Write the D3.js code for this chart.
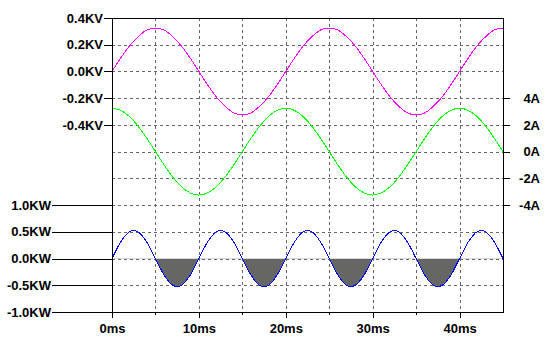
<!DOCTYPE html>
<html>
<head>
<meta charset="utf-8">
<script src="https://cdn.jsdelivr.net/npm/d3@7/dist/d3.min.js"></script>
<style>
    body { margin: 0; background: #fff; }
    svg text { font-family: "Liberation Sans", Arial, sans-serif; font-size: 13px; font-weight: bold; fill: #000; }
</style>
</head>
<body>
<div id="chart"></div>
<script>

// sample times (ms)
var timeMs = [0, 1, 2, 3, 4, 5, 6, 7, 8, 9, 10, 11, 12, 13, 14, 15, 16, 17, 18, 19,
    20, 21, 22, 23, 24, 25, 26, 27, 28, 29, 30, 31, 32, 33, 34, 35, 36, 37, 38, 39,
    40, 41, 42, 43, 44, 45];

// V(n001) in KV
var voltage = [0, 0.10, 0.19, 0.26, 0.31, 0.325, 0.31, 0.26, 0.19, 0.10,
    0, -0.10, -0.19, -0.26, -0.31, -0.325, -0.31, -0.26, -0.19, -0.10,
    0, 0.10, 0.19, 0.26, 0.31, 0.325, 0.31, 0.26, 0.19, 0.10,
    0, -0.10, -0.19, -0.26, -0.31, -0.325, -0.31, -0.26, -0.19, -0.10,
    0, 0.10, 0.19, 0.26, 0.31, 0.325];

// I(C1) in A
var current = [3.25, 3.09, 2.63, 1.91, 1.00, 0, -1.00, -1.91, -2.63, -3.09,
    -3.25, -3.09, -2.63, -1.91, -1.00, 0, 1.00, 1.91, 2.63, 3.09,
    3.25, 3.09, 2.63, 1.91, 1.00, 0, -1.00, -1.91, -2.63, -3.09,
    -3.25, -3.09, -2.63, -1.91, -1.00, 0, 1.00, 1.91, 2.63, 3.09,
    3.25, 3.09, 2.63, 1.91, 1.00, 0];

// power in KW
var power = [0, 0.31, 0.50, 0.50, 0.31, 0, -0.31, -0.50, -0.50, -0.31,
    0, 0.31, 0.50, 0.50, 0.31, 0, -0.31, -0.50, -0.50, -0.31,
    0, 0.31, 0.50, 0.50, 0.31, 0, -0.31, -0.50, -0.50, -0.31,
    0, 0.31, 0.50, 0.50, 0.31, 0, -0.31, -0.50, -0.50, -0.31,
    0, 0.31, 0.50, 0.50, 0.31, 0];

// ticks and labels
var timeMajor = [0, 10, 20, 30, 40];
var timeMinor = [5, 15, 25, 35];
var timeGrid = [5, 10, 15, 20, 25, 30, 35, 40];
var timeLabels = ["0ms", "10ms", "20ms", "30ms", "40ms"];
var voltTicks = [0.4, 0.2, 0, -0.2, -0.4];
var voltLabels = ["0.4KV", "0.2KV", "0.0KV", "-0.2KV", "-0.4KV"];
var ampTicks = [4, 2, 0, -2, -4];
var ampLabels = ["4A", "2A", "0A", "-2A", "-4A"];
var wattTicks = [1.0, 0.5, 0, -0.5, -1.0];
var wattLabels = ["1.0KW", "0.5KW", "0.0KW", "-0.5KW", "-1.0KW"];

var W = 550, H = 338;
var pLeft = 112, pRight = 503, pTop = 18, pBottom = 312;
var div = (pBottom - pTop) / 11;

var svg = d3.select("#chart").append("svg")
    .attr("width", W)
    .attr("height", H);

var x = d3.scaleLinear().domain([0, 45]).range([pLeft, pRight]);
var yV = d3.scaleLinear().domain([0.4, -0.4]).range([pTop, pTop + 4 * div]);
var yI = d3.scaleLinear().domain([4, -4]).range([pTop + 3 * div, pTop + 7 * div]);
var yP = d3.scaleLinear().domain([1, -1]).range([pTop + 7 * div, pBottom]);

function lookup(ticks, labels) {
    return function(d) { return labels[ticks.indexOf(d)]; };
}

// dashed grid
var hLines = voltTicks.map(yV).concat(ampTicks.map(yI), wattTicks.map(yP))
    .map(function(v) { return Math.round(v); })
    .filter(function(v, i, a) { return a.indexOf(v) === i && v > pTop && v < pBottom; });

var grid = svg.append("g")
    .attr("stroke", "#666")
    .attr("stroke-dasharray", "3,3")
    .attr("shape-rendering", "crispEdges");

grid.selectAll("line.h").data(hLines).enter().append("line")
    .attr("class", "h")
    .attr("x1", pLeft).attr("x2", pRight)
    .attr("y1", function(d) { return d + 0.5; })
    .attr("y2", function(d) { return d + 0.5; });

grid.selectAll("line.v").data(timeGrid).enter().append("line")
    .attr("class", "v")
    .attr("x1", function(d) { return Math.round(x(d)) + 0.5; })
    .attr("x2", function(d) { return Math.round(x(d)) + 0.5; })
    .attr("y1", pTop).attr("y2", pBottom);

// negative power area, shaded
var pts = timeMs.map(function(t, i) { return i; });
var curve = d3.curveCardinal.tension(0);

svg.append("clipPath").attr("id", "below")
    .append("rect")
    .attr("x", pLeft).attr("y", yP(0))
    .attr("width", pRight - pLeft).attr("height", pBottom - yP(0));

svg.append("path")
    .datum(pts)
    .attr("clip-path", "url(#below)")
    .attr("fill", "#666664")
    .attr("d", d3.area()
        .curve(curve)
        .x(function(i) { return x(timeMs[i]); })
        .y0(yP(0))
        .y1(function(i) { return yP(power[i]); }));

// traces
var traces = [
    { values: voltage, scale: yV, color: "#ff00ff" },
    { values: current, scale: yI, color: "#00ff00" },
    { values: power, scale: yP, color: "#0000ff" }
];

traces.forEach(function(tr) {
    svg.append("path")
        .datum(pts)
        .attr("fill", "none")
        .attr("stroke", tr.color)
        .attr("stroke-width", 1)
        .attr("shape-rendering", "crispEdges")
        .attr("d", d3.line()
            .curve(curve)
            .x(function(i) { return x(timeMs[i]); })
            .y(function(i) { return tr.scale(tr.values[i]); }));
});

// axes
function styleAxis(g) {
    g.select(".domain").remove();
    g.attr("font-size", null).attr("font-family", null);
    g.selectAll("line").attr("stroke", "#000").attr("shape-rendering", "crispEdges");
    g.selectAll("text").attr("fill", "#000");
}

svg.append("g")
    .attr("transform", "translate(" + pLeft + ",0)")
    .call(d3.axisLeft(yV).tickValues(voltTicks).tickFormat(lookup(voltTicks, voltLabels))
        .tickSize(8).tickPadding(1))
    .call(styleAxis);

svg.append("g")
    .attr("transform", "translate(" + pLeft + ",0)")
    .call(d3.axisLeft(yP).tickValues(wattTicks).tickFormat(lookup(wattTicks, wattLabels))
        .tickSize(60).tickPadding(1))
    .call(styleAxis);

var rightAxis = svg.append("g")
    .attr("transform", "translate(" + pRight + ",0)")
    .call(d3.axisRight(yI).tickValues(ampTicks).tickFormat(lookup(ampTicks, ampLabels))
        .tickSize(7))
    .call(styleAxis);
rightAxis.selectAll("text").attr("text-anchor", "end").attr("x", 37);

var bottomAxis = svg.append("g")
    .attr("transform", "translate(0," + pBottom + ")")
    .call(d3.axisBottom(x).tickValues(timeMajor).tickFormat(lookup(timeMajor, timeLabels))
        .tickSize(6))
    .call(styleAxis);
bottomAxis.selectAll("text").attr("y", 21).attr("dy", null);

svg.append("g")
    .attr("transform", "translate(0," + pBottom + ")")
    .call(d3.axisBottom(x).tickValues(timeMinor).tickFormat("").tickSize(3))
    .call(styleAxis);

// frame
svg.append("rect")
    .attr("x", pLeft + 0.5).attr("y", pTop + 0.5)
    .attr("width", pRight - pLeft).attr("height", pBottom - pTop)
    .attr("fill", "none")
    .attr("stroke", "#000")
    .attr("shape-rendering", "crispEdges");

</script>
</body>
</html>
